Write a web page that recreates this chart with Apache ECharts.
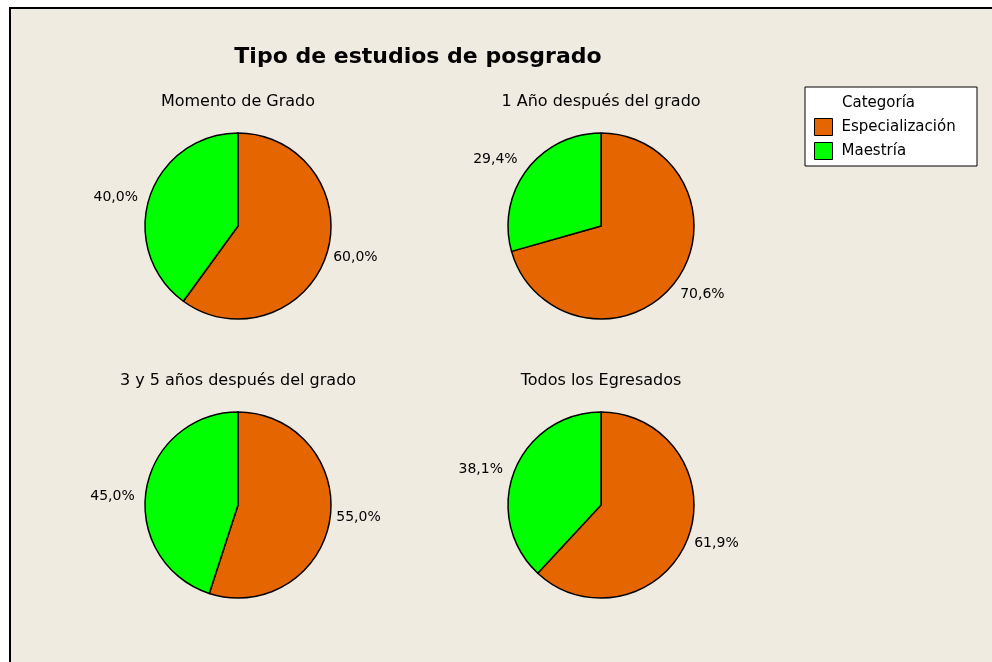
<!DOCTYPE html>
<html>
<head>
<meta charset="utf-8">
<script src="https://cdn.jsdelivr.net/npm/echarts@6/dist/echarts.min.js"></script>
<style>
  html, body { margin: 0; padding: 0; background: #fff; }
  #chart { width: 992px; height: 662px; }
</style>
</head>
<body>
<div id="chart"></div>
<script>
// datos
var categorias = ['Especialización', 'Maestría'];
var grupos = ['Momento de Grado', '1 Año después del grado', '3 y 5 años después del grado', 'Todos los Egresados'];
var especializacion = [60.0, 70.6, 55.0, 61.9];
var maestria = [40.0, 29.4, 45.0, 38.1];
var colores = ['#E56600', '#00FF00'];

var centros = [[238, 226], [601, 226], [238, 505], [601, 505]];
var radio = 93;
var fuente = 'DejaVu Sans';

var myChart = echarts.init(document.getElementById('chart'));

// coloca la etiqueta fuera del sector, como en Minitab
function ubicarEtiqueta(i) {
    return function (p) {
        var vals = [especializacion[i], maestria[i]];
        var total = vals[0] + vals[1];
        var antes = 0;
        for (var k = 0; k < p.dataIndex; k++) antes += vals[k];
        var medio = (antes + vals[p.dataIndex] / 2) / total * 360 - 4;
        var rad = medio * Math.PI / 180;
        var s = Math.sin(rad), c = Math.cos(rad);
        var dist = s > 0 ? 121 : 126;
        return {
            x: centros[i][0] + s * dist,
            y: centros[i][1] - c * dist + 2,
            align: 'center',
            verticalAlign: 'middle'
        };
    };
}

var titulos = [{
    text: 'Tipo de estudios de posgrado',
    left: 418,
    top: 46,
    padding: 0,
    textAlign: 'center',
    textStyle: { fontFamily: fuente, fontSize: 22, fontWeight: 'bold', color: '#000' }
}];
var series = [];
for (var i = 0; i < grupos.length; i++) {
    titulos.push({
        text: grupos[i],
        left: centros[i][0],
        top: centros[i][1] - 132,
        padding: 0,
        textAlign: 'center',
        textStyle: { fontFamily: fuente, fontSize: 16, fontWeight: 'normal', color: '#000' }
    });
    series.push({
        type: 'pie',
        name: grupos[i],
        center: centros[i],
        radius: radio,
        startAngle: 90,
        clockwise: true,
        avoidLabelOverlap: false,
        silent: true,
        itemStyle: { borderColor: '#000', borderWidth: 1.5 },
        label: {
            show: true,
            position: 'outside',
            fontFamily: fuente,
            fontSize: 14,
            color: '#000',
            formatter: function (p) {
                return p.percent.toFixed(1).replace('.', ',') + '%';
            }
        },
        labelLine: { show: false, length: 5, length2: 0 },
        labelLayout: ubicarEtiqueta(i),
        data: [
            { name: categorias[0], value: especializacion[i] },
            { name: categorias[1], value: maestria[i] }
        ]
    });
}

option = {
    backgroundColor: '#fff',
    animation: false,
    color: colores,
    title: titulos,
    graphic: [
        {
            type: 'rect',
            z: -10,
            shape: { x: 10, y: 8, width: 1000, height: 700 },
            style: { fill: '#EFEBE1', stroke: '#000', lineWidth: 2 }
        },
        {
            type: 'rect',
            z: 1,
            shape: { x: 805, y: 87, width: 172, height: 79 },
            style: { fill: '#fff', stroke: '#000', lineWidth: 1 }
        },
        {
            type: 'text',
            z: 2,
            left: 842,
            top: 96,
            style: { text: 'Categoría', fontFamily: fuente, fontSize: 15, fill: '#000' }
        }
    ],
    legend: {
        orient: 'vertical',
        left: 814,
        top: 118,
        padding: 0,
        itemWidth: 18,
        itemHeight: 17,
        itemGap: 6,
        icon: 'rect',
        selectedMode: false,
        itemStyle: { borderColor: '#000', borderWidth: 1 },
        textStyle: { fontFamily: fuente, fontSize: 15, color: '#000', padding: [0, 0, 0, 4] },
        data: categorias
    },
    series: series
};

option && myChart.setOption(option);
</script>
</body>
</html>
